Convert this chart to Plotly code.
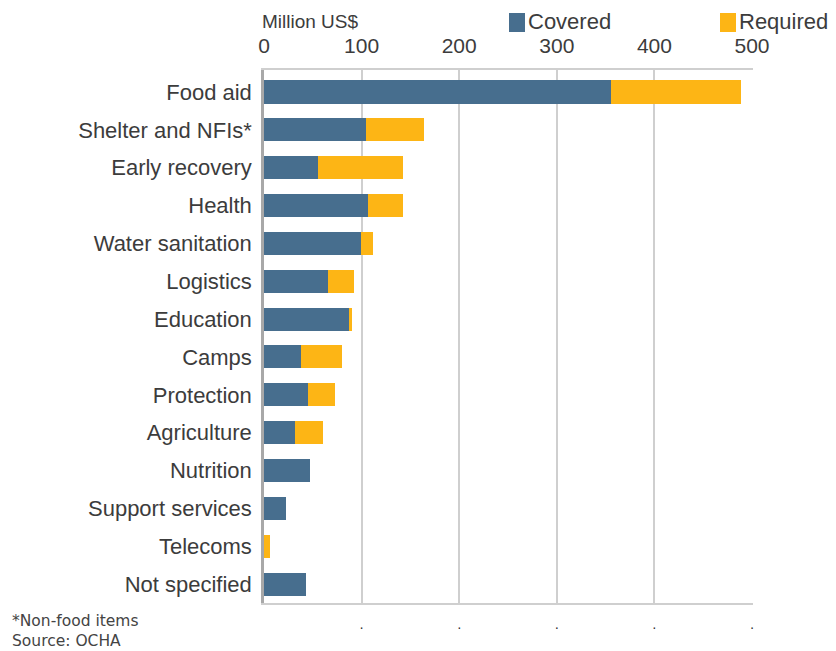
import plotly.graph_objects as go

# Humanitarian funding by sector, million US$
sectors = ["Food aid", "Shelter and NFIs*", "Early recovery", "Health",
           "Water sanitation", "Logistics", "Education", "Camps",
           "Protection", "Agriculture", "Nutrition", "Support services",
           "Telecoms", "Not specified"]
covered = [356, 105, 55, 107, 99, 66, 88, 38, 45, 32, 47, 23, 0, 43]
required_total = [489, 164, 142, 142, 112, 92, 90, 80, 73, 60, 47, 23, 6, 43]
shortfall = [t - c for t, c in zip(required_total, covered)]

x_ticks = [0, 100, 200, 300, 400, 500]

COVERED_COL = "#476e8e"
REQUIRED_COL = "#fdb515"
TEXT_COL = "#3c3c3c"
FONT = "Liberation Sans, Arial, sans-serif"

# plot area in pixels
L, R, T, B = 264, 753, 70, 603
W, H = 836, 651


def px(x):
    return (x - L) / (R - L)


def py(y):
    return (B - y) / (B - T)


fig = go.Figure()
fig.add_trace(go.Bar(y=sectors, x=covered, orientation="h", name="Covered",
                     marker=dict(color=COVERED_COL, line=dict(width=0)),
                     width=0.61))
fig.add_trace(go.Bar(y=sectors, x=shortfall, orientation="h", name="Required",
                     marker=dict(color=REQUIRED_COL, line=dict(width=0)),
                     width=0.61))
# invisible trace carrying the lower axis
fig.add_trace(go.Scatter(x=[0], y=[sectors[0]], xaxis="x2", mode="markers",
                         marker=dict(opacity=0), showlegend=False,
                         hoverinfo="skip"))

fig.update_layout(
    width=W, height=H,
    barmode="stack",
    plot_bgcolor="white", paper_bgcolor="white",
    margin=dict(l=L, r=W - R, t=T, b=H - B),
    font=dict(family=FONT, color=TEXT_COL, size=20),
    showlegend=False,
    xaxis=dict(side="top", range=[0, 501], tickvals=x_ticks,
               showgrid=True, gridcolor="#cfcfcf", gridwidth=1.5,
               showline=True, linecolor="#cfcfcf", linewidth=1.5, mirror=True,
               zeroline=False, ticks="", tickfont=dict(size=21, color=TEXT_COL),
               ticklabelstandoff=7),
    xaxis2=dict(overlaying="x", side="bottom", anchor="y", matches="x",
                tickvals=x_ticks[1:], ticktext=["·"] * 5, showgrid=False,
                showline=False, zeroline=False, ticks="",
                tickfont=dict(size=14, color="#333333"), ticklabelstandoff=14),
    yaxis=dict(range=[13.5, -0.58], showline=True, linecolor="#a8a8a8",
               linewidth=2.5, showgrid=False, zeroline=False, ticks="",
               ticklabelstandoff=5,
               tickfont=dict(size=22, color=TEXT_COL)),
)

# axis unit label
fig.add_annotation(text="Million US$", xref="paper", yref="paper",
                   x=px(260), y=py(22), xanchor="left", yanchor="middle",
                   showarrow=False, font=dict(size=19, color=TEXT_COL))

# legend: coloured squares with labels
for name, col, x0 in [("Covered", COVERED_COL, 509), ("Required", REQUIRED_COL, 720)]:
    fig.add_shape(type="rect", xref="paper", yref="paper",
                  x0=px(x0), x1=px(x0 + 16), y0=py(32), y1=py(13),
                  fillcolor=col, line=dict(width=0))
    fig.add_annotation(text=name, xref="paper", yref="paper",
                       x=px(x0 + 17), y=py(22), xanchor="left", yanchor="middle",
                       showarrow=False, font=dict(size=22, color=TEXT_COL))

# footnotes
for text, y in [("*Non-food items", 621), ("Source: OCHA", 641)]:
    fig.add_annotation(text=text, xref="paper", yref="paper",
                       x=px(10), y=py(y), xanchor="left", yanchor="middle",
                       showarrow=False,
                       font=dict(size=15.5, color="#444444",
                                 family="DejaVu Sans, sans-serif"))

fig.write_html("out.html")
